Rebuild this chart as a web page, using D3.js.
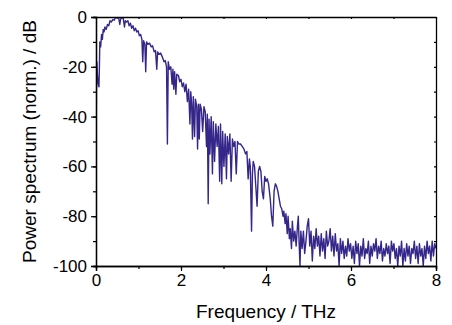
<!DOCTYPE html>
<html>
<head>
<meta charset="utf-8">
<script src="https://cdn.jsdelivr.net/npm/d3@7"></script>
<style>
  body { margin: 0; background: #fff; }
  text { font-family: "Liberation Sans", Arial, sans-serif; fill: #000; }
</style>
</head>
<body>
<div id="chart"></div>
<script>
// normalised power spectrum
const freqTHz = [
  0.00, 0.01, 0.02, 0.03, 0.05, 0.07, 0.08, 0.09, 0.11, 0.13, 0.15, 0.17, 0.19, 0.21, 0.24, 0.27, 0.30, 0.33, 0.36, 0.40,
  0.43, 0.46, 0.50, 0.53, 0.56, 0.58, 0.61, 0.64, 0.67, 0.69, 0.72, 0.75, 0.78, 0.81, 0.84, 0.87, 0.90, 0.93, 0.96, 0.99,
  1.02, 1.05, 1.08, 1.10, 1.12, 1.15, 1.17, 1.19, 1.22, 1.26, 1.30, 1.33, 1.37, 1.40, 1.43, 1.45, 1.48, 1.52, 1.56, 1.60,
  1.63, 1.66, 1.68, 1.70, 1.73, 1.76, 1.79, 1.81, 1.83, 1.85, 1.88, 1.90, 1.94, 1.97, 2.00, 2.03, 2.06, 2.09, 2.12, 2.15,
  2.18, 2.21, 2.23, 2.25, 2.27, 2.29, 2.32, 2.34, 2.37, 2.39, 2.41, 2.43, 2.45, 2.48, 2.51, 2.54, 2.57, 2.60, 2.62, 2.64,
  2.66, 2.68, 2.71, 2.74, 2.76, 2.79, 2.82, 2.85, 2.88, 2.91, 2.93, 2.96, 2.98, 3.01, 3.04, 3.07, 3.09, 3.12, 3.15, 3.18,
  3.21, 3.24, 3.27, 3.30, 3.33, 3.36, 3.40, 3.44, 3.48, 3.52, 3.55, 3.58, 3.61, 3.63, 3.66, 3.68, 3.70, 3.73, 3.76, 3.79,
  3.82, 3.85, 3.88, 3.91, 3.94, 3.97, 4.00, 4.03, 4.06, 4.10, 4.13, 4.16, 4.19, 4.22, 4.25, 4.28, 4.31, 4.34, 4.37, 4.40,
  4.42, 4.45, 4.47, 4.50, 4.52, 4.55, 4.57, 4.60, 4.62, 4.65, 4.68, 4.71, 4.74, 4.76, 4.78, 4.80, 4.82, 4.85, 4.88, 4.91,
  4.94, 4.97, 5.00, 5.03, 5.06, 5.09, 5.12, 5.15, 5.18, 5.21, 5.24, 5.27, 5.30, 5.33, 5.36, 5.39, 5.42, 5.45, 5.48, 5.51,
  5.54, 5.57, 5.60, 5.63, 5.66, 5.69, 5.72, 5.75, 5.78, 5.81, 5.84, 5.87, 5.90, 5.93, 5.96, 5.99, 6.02, 6.05, 6.08, 6.11,
  6.14, 6.17, 6.20, 6.23, 6.26, 6.29, 6.32, 6.35, 6.38, 6.41, 6.44, 6.47, 6.50, 6.53, 6.56, 6.59, 6.62, 6.65, 6.68, 6.71,
  6.74, 6.77, 6.80, 6.83, 6.86, 6.89, 6.92, 6.95, 6.98, 7.01, 7.04, 7.07, 7.10, 7.13, 7.16, 7.19, 7.22, 7.25, 7.28, 7.31,
  7.34, 7.37, 7.40, 7.43, 7.46, 7.49, 7.52, 7.55, 7.58, 7.61, 7.64, 7.67, 7.70, 7.73, 7.76, 7.79, 7.82, 7.85, 7.88, 7.91,
  7.94, 7.97, 8.00
];
const powerDb = [
  -65, -30, -18, -22, -27, -28, -20, -10, -12, -7, -9, -5, -6, -4, -5, -3, -3.5, -1.5, -2, -1,
  -1.3, 0, -0.5, 0, -3, -0.8, -0.3, -0.5, -4, -1.5, -2, -1.5, -3.5, -2.5, -4.5, -3.5, -5.5, -4.5, -6, -5.5,
  -7.5, -7, -9, -18, -9.5, -11, -22, -10, -11, -10.5, -12, -11.5, -14, -13.5, -21, -14, -15, -14.5, -16, -18,
  -17.5, -20, -51, -18, -21, -20, -27, -21, -29, -22, -31, -23, -23.5, -26, -25, -28, -26.5, -30, -27, -34,
  -29, -43, -30, -35, -49, -32, -48, -33, -36, -53, -35, -49, -35, -37, -46, -36, -38, -52, -39, -75,
  -41, -55, -40, -63, -42, -58, -43, -52, -44, -66, -43, -67, -46, -60, -47, -65, -48, -55, -47, -66,
  -49, -52, -50, -63, -50, -51, -51, -52, -53, -55, -54, -65, -57, -60, -86, -63, -58, -60, -68, -76,
  -62, -60, -62, -70, -73, -64, -66, -65, -67, -73, -80, -84, -70, -67, -68, -70, -73, -76, -77, -80,
  -78, -83, -79, -87, -80, -89, -85, -93, -82, -90, -86, -92, -84, -80, -91, -100, -86, -93, -86, -95,
  -90, -84, -81, -92, -86, -98, -88, -93, -85, -92, -88, -96, -87, -94, -89, -97, -86, -92, -90, -85,
  -94, -88, -96, -87, -94, -91, -100, -89, -95, -90, -97, -92, -96, -89, -94, -91, -97, -92, -99, -90,
  -95, -91, -100, -92, -96, -89, -97, -93, -95, -90, -99, -92, -96, -91, -94, -89, -97, -92, -95, -90,
  -98, -93, -96, -91, -95, -92, -99, -90, -94, -91, -97, -93, -100, -92, -96, -90, -100, -93, -98, -91,
  -96, -92, -99, -93, -95, -90, -97, -92, -99, -91, -96, -93, -100, -92, -97, -90, -95, -92, -98, -90,
  -96, -91, -93
];
const xTicks = [0, 2, 4, 6, 8];
const yTicks = [0, -20, -40, -60, -80, -100];

const W = 452, H = 325;
const margin = { top: 17, right: 16, bottom: 59, left: 96 };
const width = W - margin.left - margin.right,
      height = H - margin.top - margin.bottom;

const svg = d3.select("#chart").append("svg")
    .attr("width", W)
    .attr("height", H);

const g = svg.append("g")
    .attr("transform", `translate(${margin.left},${margin.top})`);

const x = d3.scaleLinear().domain([0, 8]).range([0, width]);
const y = d3.scaleLinear().domain([-100, 0]).range([height, 0]);

g.append("clipPath").attr("id", "plot-clip")
  .append("rect").attr("width", width).attr("height", height);

const data = freqTHz.map((f, i) => ({ f: f, p: powerDb[i] }));

const line = d3.line()
    .x(d => x(d.f))
    .y(d => y(d.p));

g.append("path")
    .datum(data)
    .attr("clip-path", "url(#plot-clip)")
    .attr("fill", "none")
    .attr("stroke", "#35278a")
    .attr("stroke-width", 1.4)
    .attr("stroke-linejoin", "round")
    .attr("d", line);

// minor ticks first, majors with labels on top
const minorX = d3.range(0, 8.01, 1);
const minorY = d3.range(-100, 0.01, 10);

function styleAxis(sel) {
    sel.select(".domain").attr("stroke", "#000").attr("stroke-width", 1.3);
    sel.selectAll(".tick line").attr("stroke", "#000").attr("stroke-width", 1.2);
    sel.selectAll(".tick text").style("font-size", "17px");
}

// bottom
g.append("g").attr("transform", `translate(0,${height})`)
    .call(d3.axisBottom(x).tickValues(minorX).tickSize(3).tickFormat(""))
    .call(styleAxis);
g.append("g").attr("transform", `translate(0,${height})`)
    .call(d3.axisBottom(x).tickValues(xTicks).tickSize(5).tickPadding(3).tickFormat(d3.format("d")))
    .call(styleAxis);

// left
g.append("g")
    .call(d3.axisLeft(y).tickValues(minorY).tickSize(3).tickFormat(""))
    .call(styleAxis);
g.append("g")
    .call(d3.axisLeft(y).tickValues(yTicks).tickSize(5).tickPadding(4).tickFormat(d => d3.format("d")(d).replace("−", "-")))
    .call(styleAxis);

// top and right frame, small inward ticks
g.append("g")
    .call(d3.axisTop(x).tickValues(minorX).tickSizeInner(-2).tickSizeOuter(0).tickFormat(""))
    .call(styleAxis);
g.append("g").attr("transform", `translate(${width},0)`)
    .call(d3.axisRight(y).tickValues(minorY).tickSizeInner(-2).tickSizeOuter(0).tickFormat(""))
    .call(styleAxis);

// axis titles
svg.append("text")
    .attr("x", margin.left + width / 2)
    .attr("y", 318)
    .attr("text-anchor", "middle")
    .style("font-size", "19px")
    .text("Frequency / THz");

svg.append("text")
    .attr("transform", `translate(36,${margin.top + height / 2}) rotate(-90)`)
    .attr("text-anchor", "middle")
    .style("font-size", "19px")
    .text("Power spectrum (norm.) / dB");
</script>
</body>
</html>
